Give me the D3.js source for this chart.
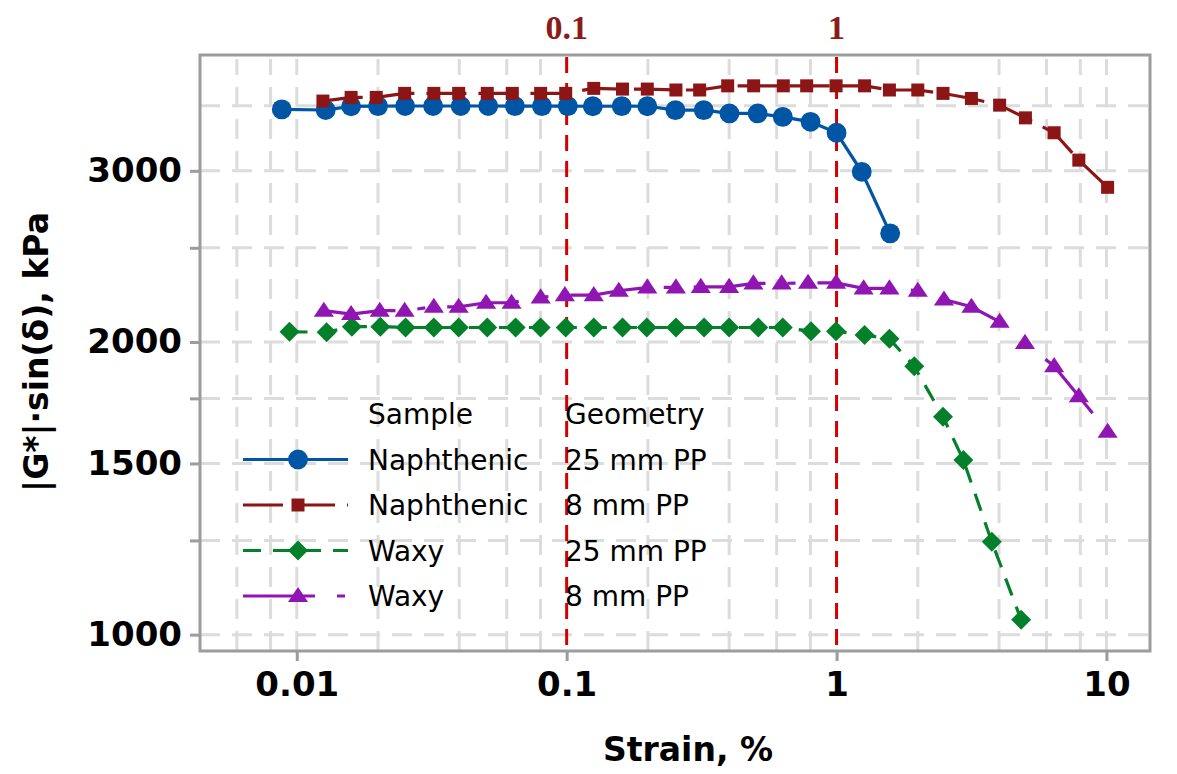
<!DOCTYPE html>
<html>
<head>
<meta charset="utf-8">
<script src="https://cdn.jsdelivr.net/npm/d3@7"></script>
<style>
  body { margin: 0; background: #fff; }
  svg { display: block; }
</style>
</head>
<body>
<svg id="chart" width="1177" height="774"></svg>
<script>
// Strain sweep: |G*|·sin(δ) (kPa) against strain (%)
const naph25Strain = [0.0088, 0.0128, 0.0159, 0.0200, 0.0252, 0.0320, 0.0405, 0.0512, 0.0643, 0.0810, 0.101, 0.125, 0.160, 0.199, 0.253, 0.322, 0.401, 0.510, 0.632, 0.801, 1.00, 1.24, 1.58];
const naph25G = [3470, 3465, 3495, 3497, 3498, 3498, 3498, 3498, 3497, 3497, 3497, 3496, 3497, 3496, 3464, 3464, 3437, 3437, 3409, 3369, 3283, 2993, 2587];

const naph8Strain = [0.0125, 0.0159, 0.0197, 0.0251, 0.0322, 0.0398, 0.0508, 0.0629, 0.0801, 0.0992, 0.126, 0.161, 0.199, 0.254, 0.311, 0.395, 0.493, 0.635, 0.775, 0.996, 1.27, 1.57, 2.00, 2.48, 3.16, 4.02, 5.01, 6.40, 7.90, 10.1];
const naph8G = [3539, 3570, 3570, 3604, 3604, 3604, 3604, 3604, 3604, 3604, 3647, 3641, 3641, 3633, 3633, 3669, 3669, 3669, 3669, 3669, 3669, 3633, 3633, 3604, 3561, 3505, 3401, 3283, 3077, 2885];

const waxy25Strain = [0.0094, 0.0129, 0.0160, 0.0204, 0.0253, 0.0322, 0.0398, 0.0508, 0.0647, 0.0801, 0.0992, 0.126, 0.161, 0.198, 0.254, 0.323, 0.400, 0.513, 0.632, 0.804, 0.996, 1.27, 1.57, 1.94, 2.48, 2.95, 3.76, 4.83];
const waxy25G = [2049, 2047, 2074, 2074, 2070, 2070, 2070, 2070, 2070, 2070, 2070, 2070, 2070, 2070, 2070, 2070, 2070, 2070, 2070, 2052, 2052, 2033, 2015, 1888, 1675, 1512, 1246, 1036];

const waxy8Strain = [0.0126, 0.0159, 0.0203, 0.0251, 0.0322, 0.0398, 0.0503, 0.0625, 0.0801, 0.0985, 0.126, 0.156, 0.199, 0.254, 0.314, 0.400, 0.492, 0.626, 0.784, 0.996, 1.26, 1.57, 2.00, 2.50, 3.16, 4.02, 4.99, 6.40, 7.90, 10.1];
const waxy8G = [2154, 2137, 2154, 2154, 2174, 2174, 2195, 2195, 2223, 2235, 2235, 2258, 2276, 2276, 2279, 2279, 2298, 2298, 2301, 2301, 2271, 2271, 2258, 2212, 2174, 2098, 1996, 1889, 1759, 1617];

// Axis ticks and grid values
const xTickValues = [0.01, 0.1, 1, 10];
const xGridValues = [0.006, 0.008, 0.01, 0.02, 0.04, 0.06, 0.08, 0.2, 0.4, 0.6, 0.8, 2, 4, 6, 8, 10];
const yTickValues = [1000, 1250, 1500, 1750, 2000, 2500, 3000];
const yLabelValues = [1000, 1500, 2000, 3000];
const yGridValues = [1000, 1250, 1500, 1750, 2000, 2500, 3000, 3500];
const refLines = [0.1, 1];

const legendHeader = ["Sample", "Geometry"];
const sampleNames = ["Naphthenic", "Naphthenic", "Waxy", "Waxy"];
const geometryNames = ["25 mm PP", "8 mm PP", "25 mm PP", "8 mm PP"];

// Series styling
const series = [
  { strain: naph25Strain, g: naph25G, color: "#0055a5", dash: null, marker: "circle" },
  { strain: naph8Strain, g: naph8G, color: "#8c1515", dash: "40,12", marker: "square" },
  { strain: waxy25Strain, g: waxy25G, color: "#05802a", dash: "18,12", marker: "diamond" },
  { strain: waxy8Strain, g: waxy8G, color: "#9016b4", dash: "72,22,8,22", marker: "triangle" }
];

const svg = d3.select("#chart");
const P = { left: 200, right: 1150, top: 55, bottom: 651 };

const x = d3.scaleLog().domain([0.00438, 14.5]).range([P.left, P.right]);
const y = d3.scaleLog().domain([962, 3947]).range([P.bottom, P.top]);

const FONT = "'DejaVu Sans', sans-serif";

// Grid
const grid = svg.append("g").attr("stroke", "#dcdcdc").attr("stroke-width", 3).attr("stroke-dasharray", "20,12");
grid.selectAll(".gx").data(xGridValues).join("line")
  .attr("x1", d => x(d)).attr("x2", d => x(d))
  .attr("y1", P.bottom).attr("y2", P.top + 4);
grid.selectAll(".gy").data(yGridValues).join("line")
  .attr("x1", P.left).attr("x2", P.right)
  .attr("y1", d => y(d)).attr("y2", d => y(d));

// Reference lines at 0.1 % and 1 % strain
svg.append("g").selectAll("line").data(refLines).join("line")
  .attr("x1", d => x(d)).attr("x2", d => x(d))
  .attr("y1", P.top + 2).attr("y2", P.bottom)
  .attr("stroke", "#d40000").attr("stroke-width", 3).attr("stroke-dasharray", "16,10");

svg.append("g").selectAll("text").data(refLines).join("text")
  .attr("x", d => x(d)).attr("y", 39)
  .attr("text-anchor", "middle")
  .attr("font-family", "'Liberation Serif', serif").attr("font-weight", "bold")
  .attr("font-size", 34).attr("fill", "#8b1a1a")
  .text(d => d3.format("")(d));

// Frame
svg.append("rect")
  .attr("x", P.left).attr("y", P.top)
  .attr("width", P.right - P.left).attr("height", P.bottom - P.top)
  .attr("fill", "none").attr("stroke", "#9c9c9c").attr("stroke-width", 3);

// Axes
const xAxis = d3.axisBottom(x).tickValues(xTickValues).tickSize(10).tickPadding(10)
  .tickFormat(d => d3.format("")(d));
const gx = svg.append("g").attr("transform", `translate(0,${P.bottom})`).call(xAxis);
gx.select(".domain").remove();
gx.selectAll(".tick line").attr("stroke", "#9c9c9c").attr("stroke-width", 3);
gx.selectAll(".tick text").attr("font-family", FONT).attr("font-weight", "bold")
  .attr("font-size", 34).attr("fill", "#000").attr("dy", "0.74em");

const yAxis = d3.axisLeft(y).tickValues(yTickValues).tickSize(10).tickPadding(8)
  .tickFormat(d => yLabelValues.includes(d) ? String(d) : "");
const gy = svg.append("g").attr("transform", `translate(${P.left},0)`).call(yAxis);
gy.select(".domain").remove();
gy.selectAll(".tick line").attr("stroke", "#9c9c9c").attr("stroke-width", 3);
gy.selectAll(".tick text").attr("font-family", FONT).attr("font-weight", "bold")
  .attr("font-size", 34).attr("fill", "#000");

// Axis titles
svg.append("text")
  .attr("x", 688).attr("y", 761)
  .attr("text-anchor", "middle")
  .attr("font-family", FONT).attr("font-weight", "bold").attr("font-size", 33)
  .text("Strain, %");

svg.append("text")
  .attr("transform", "translate(48,352) rotate(-90)")
  .attr("text-anchor", "middle")
  .attr("font-family", FONT).attr("font-weight", "bold").attr("font-size", 33)
  .text("|G*|·sin(δ), kPa");

// Marker shapes
const triangleFlat = {
  draw(ctx, size) {
    const w = Math.sqrt(size) * 1.3, h = w * 0.75;
    ctx.moveTo(0, -h * 0.6);
    ctx.lineTo(w / 2, h * 0.4);
    ctx.lineTo(-w / 2, h * 0.4);
    ctx.closePath();
  }
};
function markerPath(type) {
  if (type === "circle") return d3.symbol(d3.symbolCircle, 310)();
  if (type === "square") return d3.symbol(d3.symbolSquare, 169)();
  if (type === "diamond") return d3.symbol(d3.symbolSquare, 200)();
  return d3.symbol(triangleFlat, 240)();
}
function markerTransform(type, px, py) {
  return type === "diamond" ? `translate(${px},${py}) rotate(45)` : `translate(${px},${py})`;
}

// Series lines and markers
const line = d3.line().x(d => x(d[0])).y(d => y(d[1]));
series.forEach(s => {
  const pts = s.strain.map((v, i) => [v, s.g[i]]);
  svg.append("path")
    .datum(pts)
    .attr("d", line)
    .attr("fill", "none")
    .attr("stroke", s.color)
    .attr("stroke-width", 3.2)
    .attr("stroke-dasharray", s.dash);
  svg.append("g").selectAll("path").data(pts).join("path")
    .attr("d", markerPath(s.marker))
    .attr("transform", d => markerTransform(s.marker, x(d[0]), y(d[1])))
    .attr("fill", s.color);
});

// Legend
const lg = svg.append("g").attr("font-family", FONT).attr("font-size", 28).attr("fill", "#000");
const rowY = i => 414 + i * 45.5;
lg.append("text").attr("x", 368).attr("y", rowY(0) + 10).text(legendHeader[0]);
lg.append("text").attr("x", 565).attr("y", rowY(0) + 10).text(legendHeader[1]);
series.forEach((s, i) => {
  const ry = rowY(i + 1);
  lg.append("line")
    .attr("x1", 243).attr("x2", 348).attr("y1", ry).attr("y2", ry)
    .attr("stroke", s.color).attr("stroke-width", 3.2)
    .attr("stroke-dasharray", s.dash);
  lg.append("path")
    .attr("d", markerPath(s.marker))
    .attr("transform", markerTransform(s.marker, 298, ry))
    .attr("fill", s.color);
  lg.append("text").attr("x", 368).attr("y", ry + 10).text(sampleNames[i]);
  lg.append("text").attr("x", 565).attr("y", ry + 10).text(geometryNames[i]);
});
</script>
</body>
</html>
